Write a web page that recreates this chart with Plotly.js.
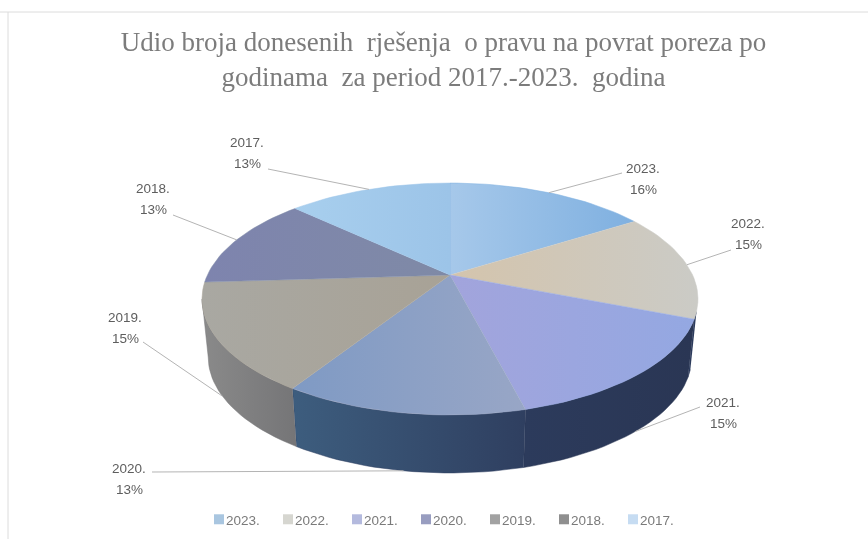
<!DOCTYPE html>
<html>
<head>
<meta charset="utf-8">
<script src="https://cdn.plot.ly/plotly-3.0.1.min.js"></script>
<style>
html,body{margin:0;padding:0;background:#fff}
#chart{width:868px;height:539px;filter:blur(0.55px)}
</style>
</head>
<body>
<div id="chart"></div>
<script>
// ---- data ----
const years = ['2023.', '2022.', '2021.', '2020.', '2019.', '2018.', '2017.'];
const shares = [16, 15, 15, 13, 15, 13, 13];
const titleLines = ['Udio broja donesenih\u00a0 rješenja\u00a0 o pravu na povrat poreza po',
                    'godinama\u00a0 za period 2017.-2023.\u00a0 godina'];

// ---- styles ----
const topStart  = ['#a6c8ea', '#d4c4ac', '#a2a4dc', '#7f9ac4', '#a9a8a2', '#7e84ae', '#a8cfee'];
const topEnd    = ['#7fb0e0', '#cbcbc6', '#94a8e2', '#98a6c6', '#a8a296', '#7f8aa6', '#9cc4e8'];
const wallStart = ['#5f7fa8', '#2c3b5c', '#2c3b5c', '#3d5d7e', '#8a8a8a', '#777', '#8fb0d0'];
const wallEnd   = ['#5f7fa8', '#2c3b5c', '#2a3654', '#2f3f60', '#757577', '#777', '#8fb0d0'];
const legendColors = ['#a9c6e0', '#d6d6d0', '#b4bade', '#989dc0', '#a2a2a2', '#8f8f8f', '#c6dcf2'];
const labelAnchors = [[622,173],[731,250],[700,407],[152,472],[143,342],[173,215],[268,169]];
const labelPos     = [[643,168],[748,223],[723,402],[129,468],[125,317],[153,188],[247,142]];
const labelLineGap = 21.5;
const onWall       = [false,false,true,true,true,false,false];

// ---- projection of the tilted disc onto the page ----
const APEX_X = 450, APEX_Y = 275, AX = 242.6, BY = 111, PERSP = 0.207, DEPTH = 58, BOTTOM_SHRINK = 0.975;
function project(deg, drop) {
  const t = deg * Math.PI / 180, u = Math.sin(t), v = Math.cos(t), w = 1 + PERSP * v;
  const k = drop ? BOTTOM_SHRINK : 1;
  return [APEX_X + k * AX * u / w, APEX_Y - BY * v / w + (drop || 0)];
}
function arc(a, b, drop) {
  const pts = [], n = Math.max(2, Math.ceil(Math.abs(b - a) / 2));
  for (let i = 0; i <= n; i++) pts.push(project(a + (b - a) * i / n, drop));
  return pts;
}
const total = shares.reduce((s, v) => s + v, 0);
let acc = 0;
const wedges = shares.map(v => { const a = acc / total * 360; acc += v; return [a, acc / total * 360]; });

const traces = [];
function poly(pts, c1, c2) {
  traces.push({
    type: 'scatter', mode: 'lines', showlegend: false, hoverinfo: 'skip',
    x: pts.map(p => p[0]), y: pts.map(p => p[1]), fill: 'toself',
    line: {width: 0.5, color: c2},
    fillgradient: {type: 'horizontal', colorscale: [[0, c1], [1, c2]]}
  });
}
// side wall: only the part of the rim facing the viewer
const WALL_FROM = 108, WALL_TO = 258;
wedges.forEach((w, i) => {
  const a = Math.max(w[0], WALL_FROM), b = Math.min(w[1], WALL_TO);
  if (b > a) poly(arc(a, b, 0).concat(arc(b, a, DEPTH)), wallStart[i], wallEnd[i]);
});
// top face
wedges.forEach((w, i) => poly([[APEX_X, APEX_Y]].concat(arc(w[0], w[1], 0)), topStart[i], topEnd[i]));
// leader lines
wedges.forEach((w, i) => {
  const m = project((w[0] + w[1]) / 2, onWall[i] ? DEPTH : 0);
  traces.push({type: 'scatter', mode: 'lines', showlegend: false, hoverinfo: 'skip',
    x: [labelAnchors[i][0], m[0]], y: [labelAnchors[i][1], m[1]],
    line: {color: '#b4b4b4', width: 1}});
});
// legend entries
years.forEach((y, i) => traces.push({
  type: 'scatter', mode: 'markers', name: y, x: [null], y: [null],
  marker: {symbol: 'square', size: 10, color: legendColors[i]}
}));

const labelFont = {family: '"Liberation Sans", Arial, sans-serif', size: 13.5, color: '#5e5e5e'};
const annotations = [];
years.forEach((y, i) => {
  annotations.push({x: labelPos[i][0], y: labelPos[i][1], xref: 'x', yref: 'y', showarrow: false, text: y, font: labelFont});
  annotations.push({x: labelPos[i][0], y: labelPos[i][1] + labelLineGap, xref: 'x', yref: 'y', showarrow: false, text: shares[i] + '%', font: labelFont});
});

const layout = {
  width: 868, height: 539, margin: {l: 0, r: 0, t: 0, b: 0},
  paper_bgcolor: '#fff', plot_bgcolor: '#fff',
  title: {text: titleLines.join('<br>'), x: 0.511, xanchor: 'center', y: 0.906, yanchor: 'middle',
    font: {family: '"Liberation Serif", serif', size: 27, color: '#7c7c7c'}},
  xaxis: {range: [0, 868], visible: false, fixedrange: true},
  yaxis: {range: [539, 0], visible: false, fixedrange: true},
  showlegend: true,
  legend: {orientation: 'h', x: 186 / 868, xanchor: 'left', y: 1 - 504 / 539, yanchor: 'top',
    traceorder: 'normal', itemwidth: 30, entrywidth: 24, entrywidthmode: 'pixels',
    bgcolor: 'rgba(0,0,0,0)', font: {family: '"Liberation Sans", Arial, sans-serif', size: 13.5, color: '#7a7a7a'}},
  shapes: [
    {type: 'line', xref: 'x', yref: 'y', x0: 0, x1: 868, y0: 12, y1: 12, line: {color: '#dcdcdc', width: 1}},
    {type: 'line', xref: 'x', yref: 'y', x0: 8, x1: 8, y0: 12, y1: 539, line: {color: '#dcdcdc', width: 1}}
  ],
  annotations: annotations
};

Plotly.newPlot('chart', traces, layout, {staticPlot: true, displayModeBar: false}).then(gd => {
  // tighten the swatch against its legend text, and let the last entry show its full stop
  gd.querySelectorAll('.legend .legendpoints .scatterpts').forEach(p => p.setAttribute('transform', 'translate(33,0)'));
  gd.querySelectorAll('.legend .scrollbox').forEach(s => s.removeAttribute('clip-path'));
  gd.querySelectorAll('.legend .scrollbox').forEach(s => { s.style.clipPath = 'none'; });
});
</script>
</body>
</html>
